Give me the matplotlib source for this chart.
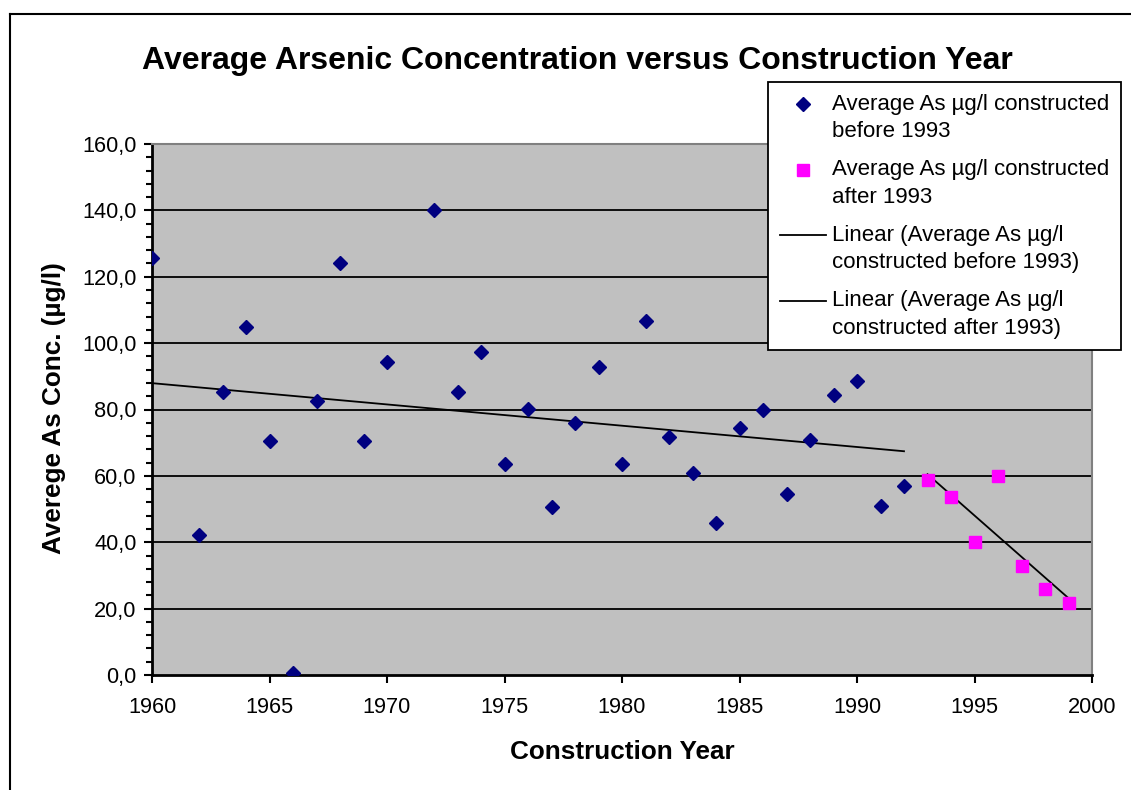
import numpy as np
import matplotlib
matplotlib.use('Agg')
import matplotlib.pyplot as plt
from matplotlib.ticker import MultipleLocator, FuncFormatter
from matplotlib.lines import Line2D
from matplotlib.legend_handler import HandlerLine2D

plt.rcParams['font.family'] = ['Liberation Sans', 'DejaVu Sans']

# data
years_before = [1960, 1962, 1963, 1964, 1965, 1966, 1967, 1968, 1969, 1970,
                1972, 1973, 1974, 1975, 1976, 1977, 1978, 1979, 1980, 1981,
                1982, 1983, 1984, 1985, 1986, 1987, 1988, 1989, 1990, 1991, 1992]
as_before = [125.5, 42.3, 85.2, 104.9, 70.6, 0.7, 82.7, 124.2, 70.6, 94.2,
             140.0, 85.2, 97.2, 63.5, 80.2, 50.7, 76.0, 92.9, 63.5, 106.7,
             71.8, 60.9, 45.9, 74.4, 79.7, 54.4, 70.7, 84.5, 88.6, 50.8, 56.8]
years_after = [1993, 1994, 1995, 1996, 1997, 1998, 1999]
as_after = [58.8, 53.5, 40.2, 60.0, 32.9, 25.8, 21.6]

labels = ['Average As \u00b5g/l constructed\nbefore 1993',
          'Average As \u00b5g/l constructed\nafter 1993',
          'Linear (Average As \u00b5g/l\nconstructed before 1993)',
          'Linear (Average As \u00b5g/l\nconstructed after 1993)']


class FirstLineHandler(HandlerLine2D):
    # put the legend key next to the first text line, like Excel does
    def adjust_drawing_area(self, legend, orig_handle, xdescent, ydescent,
                            width, height, fontsize):
        xd, yd, w, h = super().adjust_drawing_area(
            legend, orig_handle, xdescent, ydescent, width, height, fontsize)
        return xd, yd - 20, w, h


W, H = 1131, 790
fig = plt.figure(figsize=(W / 100, H / 100), dpi=100)
ax = fig.add_axes([152 / W, 1 - 675 / H, (1092 - 152) / W, (675 - 144) / H])
ax.set_facecolor('#C0C0C0')

# outer chart border (top and left visible)
fig.add_artist(Line2D([10 / W, 10 / W], [0, 1 - 14 / H], color='black', lw=1.5))
fig.add_artist(Line2D([10 / W, 1], [1 - 14 / H, 1 - 14 / H], color='black', lw=1.5))

for v in range(20, 160, 20):
    ax.axhline(v, color='black', lw=1.3, zorder=1)

ax.plot(years_before, as_before, linestyle='none', marker='D', ms=7.4,
        color='#000080', zorder=3)
ax.plot(years_after, as_after, linestyle='none', marker='s', ms=9,
        color='#FF00FF', zorder=3)

# linear trendlines
xb = np.array([years_before[0], years_before[-1]])
pb = np.polyfit(years_before, as_before, 1)
ax.plot(xb, np.polyval(pb, xb), color='black', lw=1.3, zorder=2)
xa = np.array([years_after[0], years_after[-1]])
pa = np.polyfit(years_after, as_after, 1)
ax.plot(xa, np.polyval(pa, xa), color='black', lw=1.3, zorder=2)

ax.set_xlim(1960, 2000)
ax.set_ylim(0, 160)
ax.xaxis.set_major_locator(MultipleLocator(5))
ax.yaxis.set_major_locator(MultipleLocator(20))
ax.yaxis.set_minor_locator(MultipleLocator(4))
ax.yaxis.set_major_formatter(FuncFormatter(lambda v, p: f'{v:.1f}'.replace('.', ',')))
ax.tick_params(axis='both', which='major', direction='out', length=6, width=1.5,
               labelsize=15.7, colors='black')
ax.tick_params(axis='y', which='minor', direction='out', length=4, width=1.5)
ax.tick_params(axis='x', pad=10)
ax.tick_params(axis='y', pad=5)

for s in ['left', 'bottom']:
    ax.spines[s].set_linewidth(2)
    ax.spines[s].set_color('black')
for s in ['top', 'right']:
    ax.spines[s].set_linewidth(1.5)
    ax.spines[s].set_color('#808080')

fig.text(577 / W, 1 - 61 / H, 'Average Arsenic Concentration versus Construction Year',
         ha='center', va='center', fontsize=23, fontweight='bold')
fig.text(622 / W, 1 - 752 / H, 'Construction Year', ha='center', va='center',
         fontsize=18.8, fontweight='bold')
fig.text(54 / W, 1 - 408 / H, 'Averege As Conc. (\u00b5g/l)', ha='center', va='center',
         rotation=90, fontsize=18.8, fontweight='bold')

handles = [Line2D([], [], linestyle='none', marker='D', ms=7.4, color='#000080'),
           Line2D([], [], linestyle='none', marker='s', ms=9, color='#FF00FF'),
           Line2D([], [], color='black', lw=1.3),
           Line2D([], [], color='black', lw=1.3)]
leg = ax.legend(handles, labels, loc='upper left',
                bbox_to_anchor=(768 / W, 1 - 82 / H), bbox_transform=fig.transFigure,
                fontsize=16, frameon=True, fancybox=False, framealpha=1,
                edgecolor='black', handlelength=2.1, handletextpad=0.23,
                labelspacing=0.77, borderpad=0.53, borderaxespad=0,
                handler_map={Line2D: FirstLineHandler()})
leg.get_frame().set_linewidth(1.3)
for t in leg.get_texts():
    t.set_linespacing(1.4)

fig.savefig('out.png', dpi=100)
